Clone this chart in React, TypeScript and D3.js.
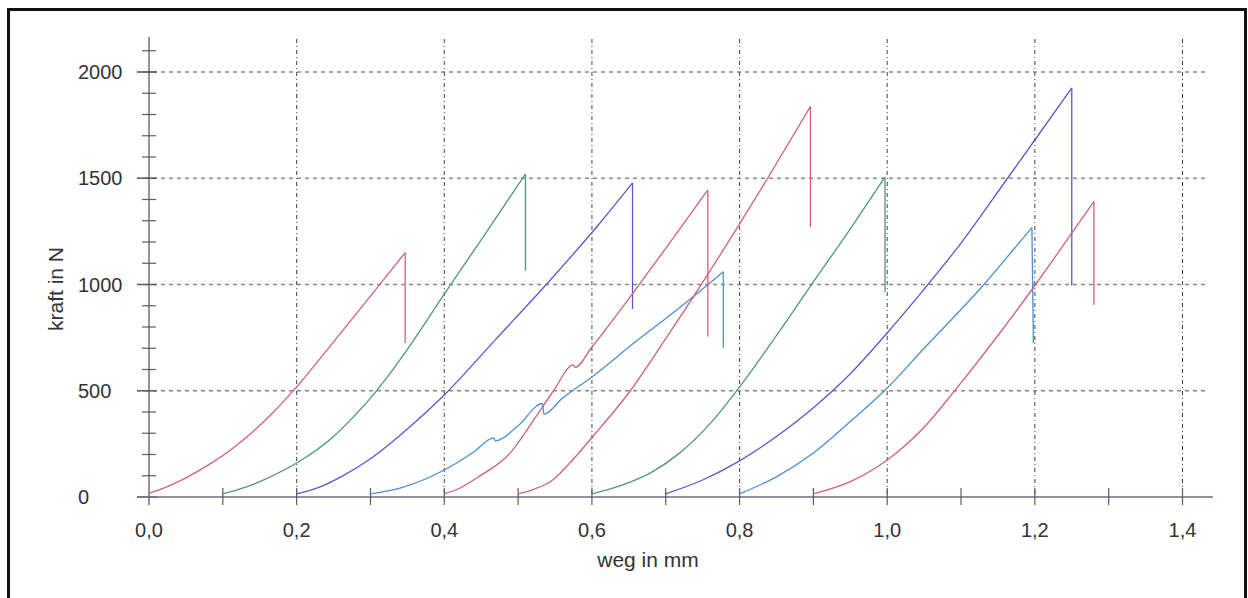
import React from "react";
import * as d3 from "d3";

// x = weg in mm, y = kraft in N ; last point of each curve is the drop after the peak
const curveRed1: [number, number][] = [[0, 18], [0.02, 42], [0.05, 90], [0.08, 150], [0.11, 220], [0.14, 305], [0.17, 405], [0.2, 518], [0.25, 730], [0.3, 945], [0.347, 1150], [0.347, 725]];
const curveGreen2: [number, number][] = [[0.1, 15], [0.13, 45], [0.16, 88], [0.2, 160], [0.25, 285], [0.275, 370], [0.3, 465], [0.325, 575], [0.35, 695], [0.4, 955], [0.45, 1210], [0.51, 1520], [0.51, 1065]];
const curveBlue3: [number, number][] = [[0.2, 15], [0.23, 45], [0.26, 95], [0.3, 180], [0.35, 320], [0.4, 480], [0.47, 743], [0.54, 1007], [0.612, 1294], [0.655, 1478], [0.655, 885]];
const curveLight4: [number, number][] = [[0.3, 15], [0.34, 42], [0.4, 127], [0.44, 212], [0.467, 278], [0.469, 264], [0.5, 335], [0.533, 440], [0.535, 390], [0.56, 465], [0.6, 565], [0.656, 722], [0.7, 840], [0.738, 945], [0.778, 1060], [0.778, 700]];
const curveRed5: [number, number][] = [[0.4, 15], [0.42, 40], [0.445, 92], [0.49, 210], [0.521, 362], [0.548, 500], [0.575, 622], [0.577, 610], [0.6, 706], [0.656, 962], [0.7, 1170], [0.757, 1445], [0.757, 755]];
const curveRed6: [number, number][] = [[0.5, 15], [0.52, 35], [0.545, 75], [0.57, 160], [0.6, 280], [0.652, 500], [0.7, 745], [0.75, 1010], [0.8, 1285], [0.838, 1500], [0.896, 1838], [0.896, 1270]];
const curveGreen7: [number, number][] = [[0.6, 15], [0.64, 55], [0.68, 115], [0.72, 210], [0.76, 345], [0.8, 518], [0.85, 760], [0.9, 1012], [0.95, 1262], [0.997, 1505], [0.997, 965]];
const curveBlue8: [number, number][] = [[0.7, 15], [0.75, 80], [0.8, 170], [0.85, 285], [0.9, 420], [0.95, 580], [1.0, 772], [1.05, 978], [1.1, 1195], [1.163, 1500], [1.2, 1680], [1.25, 1925], [1.25, 995]];
const curveLight9: [number, number][] = [[0.8, 15], [0.85, 95], [0.9, 207], [0.95, 355], [1.0, 513], [1.05, 700], [1.131, 1000], [1.17, 1160], [1.196, 1268], [1.198, 725]];
const curveRed10: [number, number][] = [[0.9, 15], [0.95, 72], [1.0, 174], [1.05, 328], [1.092, 503], [1.15, 760], [1.201, 1000], [1.24, 1192], [1.28, 1390], [1.28, 905]];

const curves = [
  { data: curveRed1, color: "#d2607c" },
  { data: curveGreen2, color: "#4f9a70" },
  { data: curveBlue3, color: "#5a58d0" },
  { data: curveLight4, color: "#4d8fd4" },
  { data: curveRed5, color: "#d2607c" },
  { data: curveRed6, color: "#d2607c" },
  { data: curveGreen7, color: "#4f9a70" },
  { data: curveBlue8, color: "#5a58d0" },
  { data: curveLight9, color: "#4d8fd4" },
  { data: curveRed10, color: "#d2607c" },
];

const xTickLabels = ["0,0", "0,2", "0,4", "0,6", "0,8", "1,0", "1,2", "1,4"];
const xMajorTicks = [0, 0.2, 0.4, 0.6, 0.8, 1.0, 1.2, 1.4];
const xMinorTicks = [0.1, 0.2, 0.3, 0.4, 0.5, 0.6, 0.7, 0.8, 0.9, 1.0, 1.1, 1.2, 1.3, 1.4];
const yMajorTicks = [0, 500, 1000, 1500, 2000];
const yMinorTicks = d3.range(100, 2200, 100);

export default function App() {
  const x = d3.scaleLinear().domain([0, 1.4]).range([149, 1182.5]);
  const y = d3.scaleLinear().domain([0, 2000]).range([497, 72]);
  const rise = d3.line<[number, number]>().x((d) => x(d[0])).y((d) => y(d[1])).curve(d3.curveMonotoneX);
  const seg = d3.line<[number, number]>().x((d) => x(d[0])).y((d) => y(d[1]));
  const font = "'Liberation Sans', Arial, sans-serif";
  const axisColor = "#5a5a66";
  return (
    <svg width={1248} height={598} style={{ position: "absolute", left: 0, top: 0, background: "#fff" }}>
      <rect x={8.5} y={9.5} width={1237} height={600} fill="#fff" stroke="#111" strokeWidth={3} />
      {/* horizontal grid */}
      {yMajorTicks.filter((v) => v > 0).map((v) => (
        <line key={"hg" + v} x1={137} x2={1208} y1={y(v)} y2={y(v)} stroke="#8a8a8a" strokeWidth={1.3} strokeDasharray="4,4" />
      ))}
      {/* vertical grid */}
      {xMajorTicks.filter((v) => v > 0).map((v) => (
        <line key={"vg" + v} x1={x(v)} x2={x(v)} y1={39} y2={y(0)} stroke="#444" strokeWidth={1} strokeDasharray="4,3,1,3" />
      ))}
      {/* y axis */}
      <line x1={149} x2={149} y1={37} y2={505} stroke={axisColor} strokeWidth={1.3} />
      {yMinorTicks.map((v) => (
        <line key={"ym" + v} x1={142} x2={156} y1={y(v)} y2={y(v)} stroke={axisColor} strokeWidth={1.2} />
      ))}
      {yMajorTicks.map((v) => (
        <line key={"yM" + v} x1={137} x2={157} y1={y(v)} y2={y(v)} stroke={axisColor} strokeWidth={1.3} />
      ))}
      {yMajorTicks.map((v) => (
        <text key={"yl" + v} x={78} y={y(v)} dy="0.36em" fontFamily={font} fontSize={20} fill="#333">{v}</text>
      ))}
      {/* x axis */}
      <line x1={137} x2={1213} y1={y(0)} y2={y(0)} stroke="#6c6c88" strokeWidth={1.4} />
      {xMinorTicks.map((v) => (
        <line key={"xm" + v} x1={x(v)} x2={x(v)} y1={488} y2={505} stroke={axisColor} strokeWidth={1.2} />
      ))}
      {xMajorTicks.map((v, i) => (
        <text key={"xl" + v} x={x(v)} y={537} textAnchor="middle" fontFamily={font} fontSize={20} fill="#333">{xTickLabels[i]}</text>
      ))}
      {/* curves */}
      {curves.map((c, i) => (
        <g key={"c" + i} fill="none" stroke={c.color} strokeWidth={1.3}>
          <path d={rise(c.data.slice(0, c.data.length - 1)) || ""} />
          <path d={seg(c.data.slice(c.data.length - 2)) || ""} />
        </g>
      ))}
      {/* titles */}
      <text x={648} y={567} textAnchor="middle" fontFamily={font} fontSize={21} fill="#333">weg in mm</text>
      <text transform="translate(63,289) rotate(-90)" textAnchor="middle" fontFamily={font} fontSize={21} fill="#333">kraft in N</text>
    </svg>
  );
}
